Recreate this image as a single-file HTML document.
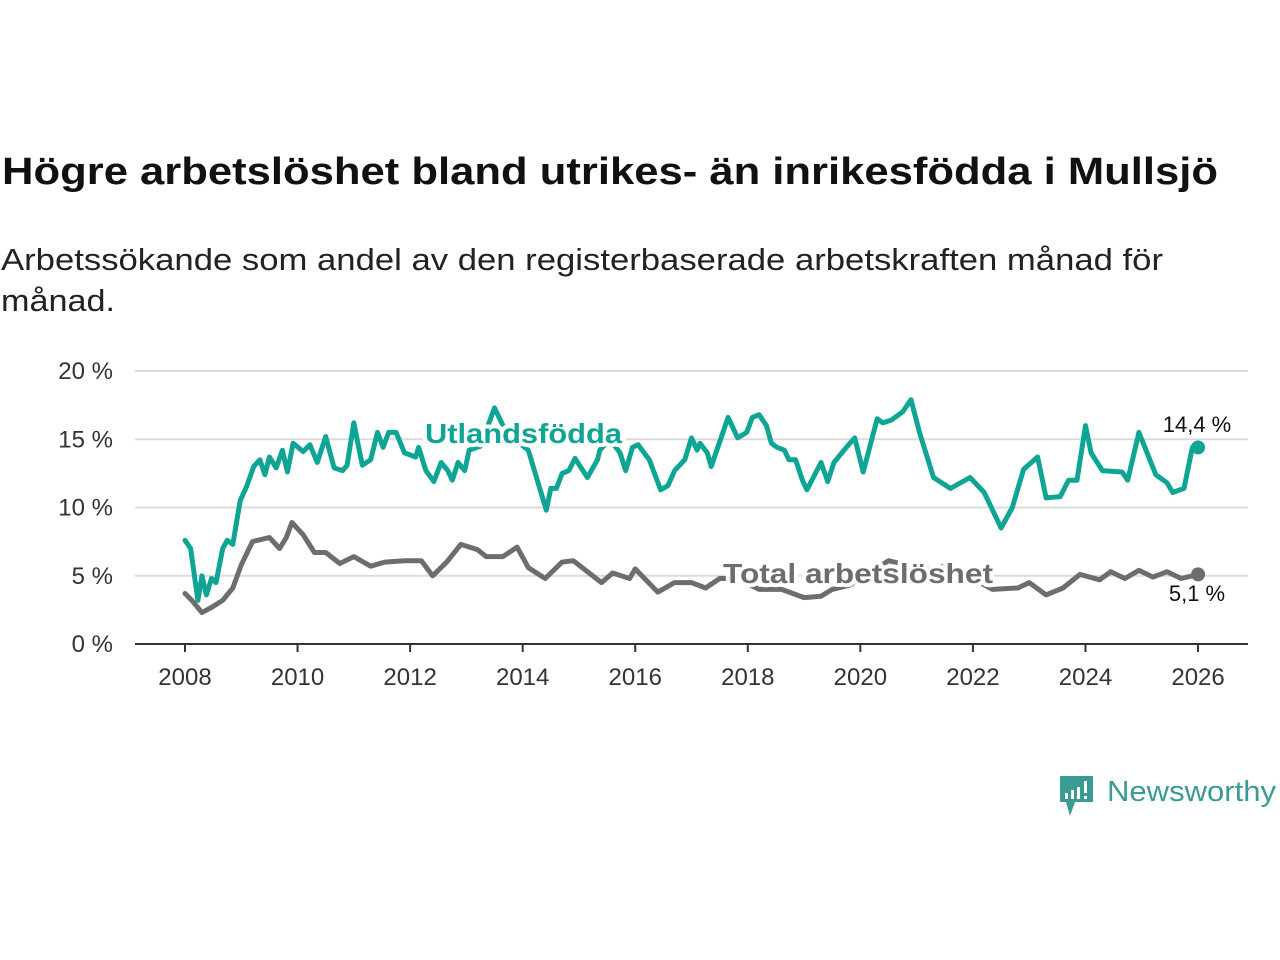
<!DOCTYPE html>
<html><head><meta charset="utf-8"><style>
html,body{margin:0;padding:0;background:#fff;width:1280px;height:960px;overflow:hidden}
svg{display:block;font-family:"Liberation Sans",sans-serif}
</style></head><body>
<svg id="chart" width="1280" height="960" viewBox="0 0 1280 960" xmlns="http://www.w3.org/2000/svg">
<text x="2" y="184" font-size="38" font-weight="bold" fill="#111" textLength="1216" lengthAdjust="spacingAndGlyphs">Högre arbetslöshet bland utrikes- än inrikesfödda i Mullsjö</text>
<text x="1" y="270" font-size="31" fill="#222" textLength="1162" lengthAdjust="spacingAndGlyphs">Arbetssökande som andel av den registerbaserade arbetskraften månad för</text>
<text x="1" y="311" font-size="31" fill="#222" textLength="114" lengthAdjust="spacingAndGlyphs">månad.</text>
<g id="grid"></g><g id="axes"></g><g id="series"></g><g id="labels"></g>
<g>
<path d="M1060 776 h33 v26 h-18 l-5 14 l-4 -14 h-6 z" fill="#3a9b94"/>
<rect x="1065" y="793" width="3" height="6" fill="#fff"/><rect x="1071" y="790" width="3" height="9" fill="#fff"/><rect x="1077" y="787" width="3" height="12" fill="#fff"/><rect x="1084" y="781" width="3" height="12" fill="#fff"/><rect x="1084" y="796" width="3" height="3" fill="#fff"/>
<text x="1107" y="801" font-size="29" fill="#3a9b94" textLength="169" lengthAdjust="spacingAndGlyphs">Newsworthy</text>
</g>
</svg>
<script>
const yTicks=[0,5,10,15,20];
const yTickLabels=["0 %","5 %","10 %","15 %","20 %"];
const xTicks=[2008,2010,2012,2014,2016,2018,2020,2022,2024,2026];
const utlDates=[2008.0,2008.1,2008.23,2008.3,2008.38,2008.47,2008.55,2008.67,2008.75,2008.85,2008.98,2009.1,2009.22,2009.33,2009.42,2009.5,2009.62,2009.73,2009.82,2009.92,2010.1,2010.22,2010.35,2010.5,2010.65,2010.8,2010.88,2011.0,2011.15,2011.3,2011.42,2011.52,2011.62,2011.75,2011.9,2012.1,2012.15,2012.28,2012.42,2012.55,2012.67,2012.75,2012.85,2012.97,2013.05,2013.25,2013.5,2013.65,2013.85,2014.1,2014.42,2014.5,2014.6,2014.7,2014.82,2014.93,2015.15,2015.33,2015.37,2015.55,2015.73,2015.83,2015.95,2016.05,2016.25,2016.45,2016.58,2016.7,2016.88,2017.0,2017.1,2017.15,2017.28,2017.35,2017.65,2017.82,2017.98,2018.08,2018.2,2018.33,2018.42,2018.52,2018.65,2018.73,2018.85,2018.97,2019.05,2019.3,2019.42,2019.53,2019.75,2019.9,2020.05,2020.3,2020.4,2020.55,2020.75,2020.9,2021.05,2021.3,2021.6,2021.95,2022.2,2022.5,2022.7,2022.9,2023.15,2023.3,2023.55,2023.7,2023.85,2024.0,2024.1,2024.3,2024.65,2024.75,2024.95,2025.25,2025.45,2025.55,2025.75,2025.9,2026.0];
const utlValues=[7.6,7.0,3.2,5.0,3.6,4.8,4.5,7.0,7.6,7.3,10.5,11.6,13.0,13.5,12.4,13.7,12.9,14.2,12.6,14.7,14.1,14.6,13.3,15.2,12.9,12.7,13.1,16.2,13.1,13.5,15.5,14.4,15.5,15.5,14.0,13.7,14.4,12.7,11.9,13.3,12.7,12.0,13.3,12.7,14.2,14.5,17.3,16.0,15.0,14.2,9.8,11.4,11.4,12.5,12.7,13.6,12.2,13.5,14.2,15.0,14.0,12.7,14.4,14.6,13.5,11.3,11.6,12.7,13.5,15.1,14.2,14.7,14.0,13.0,16.6,15.1,15.5,16.6,16.8,16.0,14.7,14.4,14.2,13.5,13.5,12.0,11.3,13.3,11.9,13.3,14.4,15.1,12.6,16.5,16.2,16.4,17.0,17.9,15.5,12.2,11.4,12.2,11.1,8.5,10.0,12.8,13.7,10.7,10.8,12.0,12.0,16.0,14.0,12.7,12.6,12.0,15.5,12.4,11.8,11.1,11.4,14.4,14.4];
const totDates=[2008.0,2008.12,2008.3,2008.48,2008.67,2008.85,2009.0,2009.2,2009.5,2009.68,2009.8,2009.9,2010.1,2010.3,2010.5,2010.75,2011.0,2011.3,2011.55,2011.9,2012.2,2012.4,2012.65,2012.9,2013.2,2013.35,2013.65,2013.9,2014.1,2014.4,2014.7,2014.9,2015.4,2015.6,2015.9,2016.0,2016.4,2016.7,2017.0,2017.25,2017.5,2017.8,2018.2,2018.6,2019.0,2019.3,2019.5,2019.8,2020.1,2020.5,2020.8,2021.2,2021.5,2021.9,2022.35,2022.8,2023.0,2023.3,2023.6,2023.9,2024.25,2024.45,2024.7,2024.95,2025.2,2025.45,2025.7,2026.0];
const totValues=[3.7,3.2,2.3,2.7,3.2,4.1,5.8,7.5,7.8,7.0,7.8,8.9,8.0,6.7,6.7,5.9,6.4,5.7,6.0,6.1,6.1,5.0,6.0,7.3,6.9,6.4,6.4,7.1,5.6,4.8,6.0,6.1,4.5,5.2,4.8,5.5,3.8,4.5,4.5,4.1,4.8,4.8,4.0,4.0,3.4,3.5,4.0,4.3,5.0,6.1,5.8,5.5,5.7,5.0,4.0,4.1,4.5,3.6,4.1,5.1,4.7,5.3,4.8,5.4,4.9,5.3,4.8,5.1];
const X=y=>185+(y-2008)*56.28;
const Y=v=>644-v*13.65;
const NS="http://www.w3.org/2000/svg";
function mk(tag,attrs,parent,txt){const e=document.createElementNS(NS,tag);for(const k in attrs)e.setAttribute(k,attrs[k]);if(txt!==undefined)e.textContent=txt;parent.appendChild(e);return e;}
const grid=document.getElementById('grid'),axes=document.getElementById('axes'),series=document.getElementById('series'),labels=document.getElementById('labels');
yTicks.forEach((t,i)=>{
 if(t>0){const g=mk('line',{x1:135,x2:1248,y1:Y(t),y2:Y(t),stroke:'#dcdcdc','stroke-width':2},grid);
 
 }
 const l=mk('text',{x:113,y:Y(t)+8,'font-size':24,fill:'#333','text-anchor':'end'},axes,yTickLabels[i]);
 
 
});
const ax=mk('line',{x1:135,x2:1248,y1:644,y2:644,stroke:'#333','stroke-width':2},axes);


xTicks.forEach(t=>{
 mk('line',{x1:X(t),x2:X(t),y1:644,y2:652,stroke:'#333','stroke-width':2},axes);
 const l=mk('text',{x:X(t),y:685,'font-size':24,fill:'#333','text-anchor':'middle'},axes,String(t));
 
 
});
function line(d,v,col,name){
 const p=mk('path',{d:d.map((t,i)=>(i?'L':'M')+X(t).toFixed(1)+' '+Y(v[i]).toFixed(1)).join(''),fill:'none',stroke:col,'stroke-width':5,'stroke-linejoin':'round','stroke-linecap':'round'},series);
 
 
 const c=mk('circle',{cx:X(d[d.length-1]),cy:Y(v[v.length-1]),r:7,fill:col},series);
 
 
}
line(totDates,totValues,'#6d6c70','total-line');
line(utlDates,utlValues,'#0fa595','utlandsfodda-line');
function lab(x,y,txt,size,col,bold,name,anchor,len){
 const a={x:x,y:y,'font-size':size,fill:col,'font-weight':bold?'bold':'normal',stroke:'#fff','stroke-width':8,'paint-order':'stroke','stroke-linejoin':'round','text-anchor':anchor||'start'};
 if(len){a.textLength=len;a.lengthAdjust='spacingAndGlyphs';}
 const t=mk('text',a,labels,txt);
 
 
}
lab(425,443,'Utlandsfödda',28,'#0fa595',true,'utlandsfodda-label','start',197);
lab(723,583,'Total arbetslöshet',28,'#6d6c70',true,'total-label','start',270);
lab(1197,432,'14,4 %',22,'#111',false,'utlandsfodda-end-value','middle');
lab(1197,601,'5,1 %',22,'#111',false,'total-end-value','middle');
</script>
</body></html>
